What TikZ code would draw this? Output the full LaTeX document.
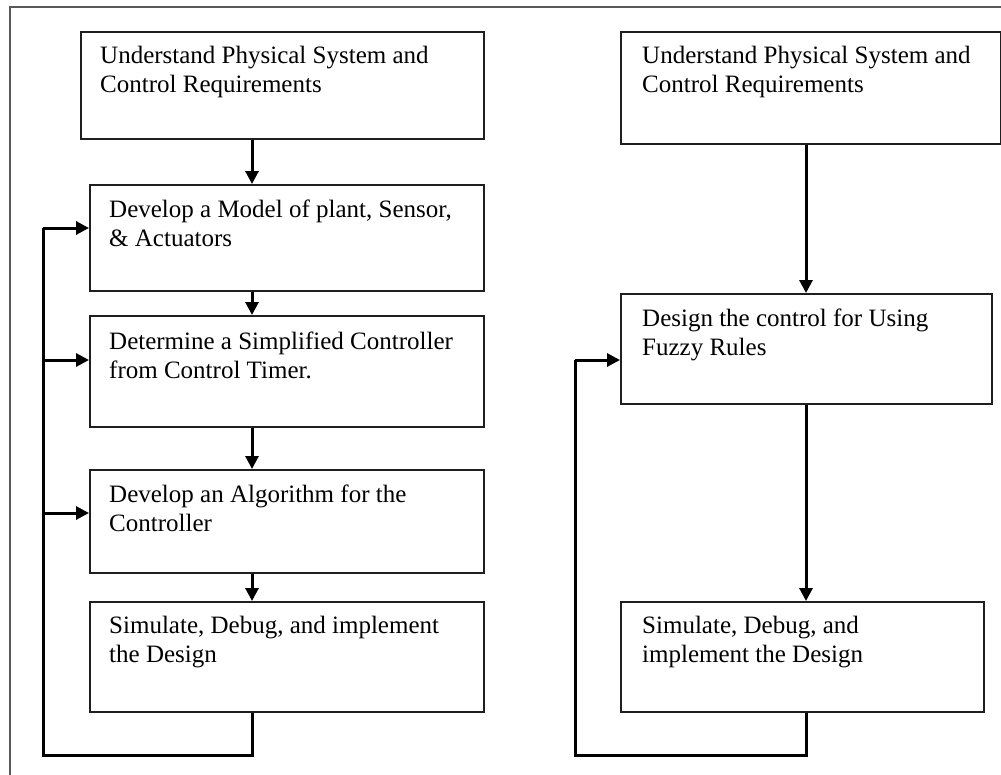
\documentclass[tikz,border=0pt]{standalone}
\usepackage{fontspec}
\setmainfont{Liberation Serif}
\usetikzlibrary{arrows.meta,calc}
\begin{document}
\begin{tikzpicture}[x=1pt,y=-1pt,
  box/.style={draw=black!88, line width=1.6pt, rectangle, inner sep=0pt, anchor=north west},
  lbl/.style={anchor=north west, inner sep=0pt, align=left, font=\fontsize{25}{29}\selectfont},
  flow/.style={line width=3pt, draw=black, line join=miter},
  arr/.style={flow, -{Triangle[length=13pt,width=13pt]}},
]
\useasboundingbox (0,0) rectangle (1001,774);
\fill[white] (0,0) rectangle (1001,774);
% outer frame
\draw[line width=1.5pt, black!65] (10,790) -- (10,7) -- (1020,7);

% left column boxes
\node[box, minimum width=403pt, minimum height=107pt] (L1) at (80,31) {};
\node[box, minimum width=394pt, minimum height=106pt] (L2) at (89,184) {};
\node[box, minimum width=394pt, minimum height=111pt] (L3) at (89,315) {};
\node[box, minimum width=394pt, minimum height=103pt] (L4) at (89,469) {};
\node[box, minimum width=394pt, minimum height=110pt] (L5) at (89,601) {};

\node[lbl] (L1t) at ($(L1.north west)+(20,15)$) {Understand Physical System and\\Control Requirements};
\node[lbl] (L2t) at ($(L2.north west)+(20,16)$) {Develop a Model of plant, Sensor,\\\& Actuators};
\node[lbl] (L3t) at ($(L3.north west)+(20,17)$) {Determine a Simplified Controller\\from Control Timer.};
\node[lbl] (L4t) at ($(L4.north west)+(20,16)$) {Develop an Algorithm for the\\Controller};
\node[lbl] (L5t) at ($(L5.north west)+(20,15)$) {Simulate, Debug, and implement\\the Design};

% right column boxes
\node[box, minimum width=380pt, minimum height=112pt] (R1) at (620,31) {};
\node[box, minimum width=371pt, minimum height=110pt] (R2) at (620,293) {};
\node[box, minimum width=363pt, minimum height=110pt] (R3) at (620,601) {};

\node[lbl] (R1t) at ($(R1.north west)+(22,15)$) {Understand Physical System and\\Control Requirements};
\node[lbl] (R2t) at ($(R2.north west)+(22,16)$) {Design the control for Using\\Fuzzy Rules};
\node[lbl] (R3t) at ($(R3.north west)+(22,15)$) {Simulate, Debug, and\\implement the Design};

% left forward arrows
\coordinate (lx) at (252,0);
\draw[arr] (L1.south -| lx) -- (L2.north -| lx);
\draw[arr] (L2.south -| lx) -- (L3.north -| lx);
\draw[arr] (L3.south -| lx) -- (L4.north -| lx);
\draw[arr] (L4.south -| lx) -- (L5.north -| lx);

% left feedback
\coordinate (lfb) at (252,755);
\coordinate (lbus) at (43,755);
\coordinate (j2) at (43,228);
\coordinate (j3) at (43,360);
\coordinate (j4) at (43,513);
\draw[flow] (L5.south -| lx) -- (lfb) -- (lbus) -- (j2);
\draw[arr] (j2) -- (j2 -| L2.west);
\draw[arr] (j3) -- (j3 -| L3.west);
\draw[arr] (j4) -- (j4 -| L4.west);

% right forward arrows
\coordinate (rx) at (806,0);
\draw[arr] (R1.south -| rx) -- (R2.north -| rx);
\draw[arr] (R2.south -| rx) -- (R3.north -| rx);

% right feedback
\coordinate (rfb) at (806,755);
\coordinate (rbus) at (575,755);
\coordinate (k2) at (575,360);
\draw[flow] (R3.south -| rx) -- (rfb) -- (rbus) -- (k2);
\draw[arr] (k2) -- (k2 -| R2.west);
\end{tikzpicture}
\end{document}
